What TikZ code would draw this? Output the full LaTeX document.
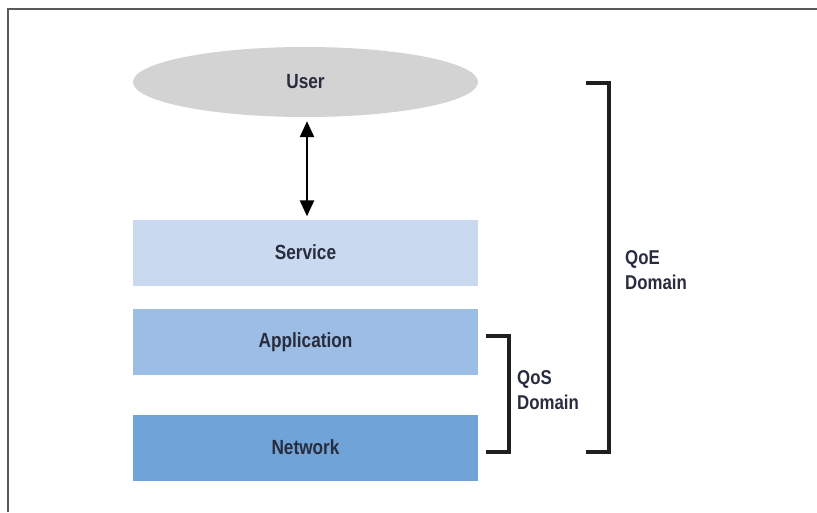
\documentclass[tikz,border=0pt]{standalone}
\usepackage{fontspec}
\setmainfont[FakeStretch=0.84]{Liberation Sans}
\usetikzlibrary{shapes.geometric,arrows.meta}
\definecolor{usergray}{RGB}{211,211,211}
\definecolor{servblue}{RGB}{201,217,239}
\definecolor{appblue}{RGB}{157,190,228}
\definecolor{netblue}{RGB}{112,163,215}
\definecolor{labelink}{RGB}{40,44,62}
\definecolor{framegray}{RGB}{90,90,90}
\tikzset{
  layer/.style={rectangle, draw=none, minimum width=345pt, minimum height=66pt,
    inner sep=0pt, font=\bfseries\fontsize{20.5}{22}\selectfont, text=labelink},
  bracketline/.style={line width=3.6pt, draw=black!88, line cap=butt, line join=miter},
  domlabel/.style={align=left, anchor=west, inner sep=0pt,
    font=\bfseries\fontsize{20}{24.5}\selectfont, text=labelink},
}
\begin{document}
\begin{tikzpicture}[x=1pt,y=-1pt]
  \useasboundingbox (0,0) rectangle (817,512);
  % frame edges
  \draw[framegray, line width=1.4pt] (8,512) -- (8,9) -- (817,9);

  % user ellipse
  \node[ellipse, fill=usergray, minimum width=345pt, minimum height=70pt, inner sep=0pt,
    font=\bfseries\fontsize{20.5}{22}\selectfont, text=labelink] (user) at (305.5,82) {User};

  % layers
  \node[layer, fill=servblue] (service) at (305.5,252.5) {Service};
  \node[layer, fill=appblue] (app) at (305.5,342) {Application};
  \node[layer, fill=netblue] (net) at (305.5,447.5) {Network};

  % interaction arrow
  \draw[line width=2.6pt, {Triangle[length=16pt,width=14pt]}-{Triangle[length=16pt,width=14pt]}]
    ([xshift=1.5pt,yshift=-4pt]user.south) -- ([xshift=1.5pt,yshift=3pt]service.north);

  % QoS bracket
  \coordinate (qostop) at (486,336);
  \coordinate (qosbot) at (486,452);
  \draw[bracketline] (qostop) -- (509,336) -- (509,452) -- (qosbot);
  \node[domlabel] (qoslbl) at (517,390) {QoS\\Domain};

  % QoE bracket
  \coordinate (qoetop) at (586,83);
  \coordinate (qoebot) at (586,452);
  \draw[bracketline] (qoetop) -- (609,83) -- (609,452) -- (qoebot);
  \node[domlabel] (qoelbl) at (625,270) {QoE\\Domain};
\end{tikzpicture}
\end{document}
